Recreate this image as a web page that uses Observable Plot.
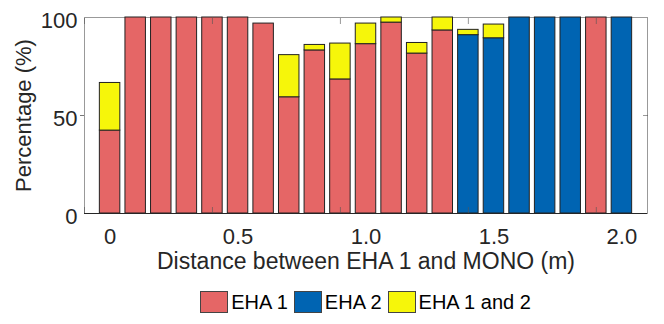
<!DOCTYPE html>
<html>
<head>
<meta charset="utf-8">
<script src="https://cdn.jsdelivr.net/npm/d3@7"></script>
<script src="https://cdn.jsdelivr.net/npm/@observablehq/plot@0.6"></script>
<style>
  body { margin: 0; background: #fff; font-family: "Liberation Sans", Arial, sans-serif; }
  #legend { display: flex; justify-content: center; align-items: center; padding-left: 84px; padding-right: 17px; height: 44px; box-sizing: border-box; font-size: 20px; color: #000; }
  .item { display: flex; align-items: center; margin: 0 3px; }
  .sw { width: 26px; height: 20px; border: 1px solid #444; margin-right: 3px; }
</style>
</head>
<body>
<div id="chart"></div>
<div id="legend"></div>
<script>
const distances = [0, 0.1, 0.2, 0.3, 0.4, 0.5, 0.6, 0.7, 0.8, 0.9, 1.0, 1.1, 1.2, 1.3, 1.4, 1.5, 1.6, 1.7, 1.8, 1.9, 2.0];
const eha1 = [42.3, 100, 100, 100, 100, 100, 96.9, 59.3, 83.2, 68.4, 86.4, 97.4, 81.6, 93.4, 0, 0, 0, 0, 0, 100, 0];
const eha2 = [0, 0, 0, 0, 0, 0, 0, 0, 0, 0, 0, 0, 0, 0, 91.0, 89.4, 100, 100, 100, 0, 100];
const both = [24.3, 0, 0, 0, 0, 0, 0, 21.5, 2.8, 18.3, 10.5, 2.6, 5.4, 6.6, 2.7, 7.0, 0, 0, 0, 0, 0];
const seriesNames = ["EHA 1", "EHA 2", "EHA 1 and 2"];
const seriesColors = ["#E56666", "#0064B2", "#F6F60A"];
const xTickValues = [0, 0.5, 1.0, 1.5, 2.0];
const xTickLabels = ["0", "0.5", "1.0", "1.5", "2.0"];
const xTickMarks = [-0.1, 0.4, 0.9, 1.4, 1.9];
const yTickValues = [0, 50, 100];
const xLabel = "Distance between EHA 1 and MONO (m)";
const yLabel = "Percentage (%)";

const halfWidth = 0.04;
const rows = [];
[eha1, eha2, both].forEach((arr, s) => {
  arr.forEach((v, i) => {
    if (v > 0) rows.push({x: distances[i], value: v, series: seriesNames[s]});
  });
});

const chart = Plot.plot({
  width: 664,
  height: 280,
  marginLeft: 84,
  marginRight: 17,
  marginTop: 17,
  marginBottom: 67,
  style: {fontFamily: "Liberation Sans, Arial, sans-serif", fontSize: "22px", color: "#262626", background: "#fff"},
  x: {domain: [-0.1, 2.1]},
  y: {domain: [0, 100]},
  color: {domain: seriesNames, range: seriesColors},
  marks: [
    Plot.frame({stroke: "#999"}),
    Plot.rectY(rows, Plot.stackY({
      x1: d => d.x - halfWidth,
      x2: d => d.x + halfWidth,
      y: "value",
      z: "series",
      fill: "series",
      stroke: "#222",
      strokeWidth: 1,
      order: seriesNames
    })),
    Plot.ruleY([0], {stroke: "#262626"}),
    Plot.axisY({ticks: yTickValues, tickSize: 0, tickPadding: 7, dy: 3, label: null, fill: "#262626"}),
    Plot.axisY({ticks: [50], tickSize: 4, tickFormat: () => "", label: null, stroke: "#777"}),
    Plot.axisY({anchor: "right", ticks: [50], tickSize: 5, dx: -5, tickFormat: () => "", label: null, stroke: "#555", strokeOpacity: 0.6}),
    Plot.axisX({anchor: "bottom", ticks: xTickMarks, tickSize: 6, dy: -6, tickFormat: () => "", label: null, stroke: "#555", strokeOpacity: 0.6}),
    Plot.axisX({anchor: "top", ticks: xTickMarks, tickSize: 6, dy: 6, tickFormat: () => "", label: null, stroke: "#555", strokeOpacity: 0.6}),
    Plot.axisX({anchor: "bottom", ticks: xTickValues, tickSize: 0, tickPadding: 15, tickFormat: (d, i) => xTickLabels[i], label: null, fill: "#262626"}),
    Plot.text([xLabel], {frameAnchor: "bottom", lineAnchor: "bottom", dy: 55, fontSize: 23, fill: "#262626"}),
    Plot.text([yLabel], {frameAnchor: "left", textAnchor: "middle", rotate: -90, dx: -61, fontSize: 22, fill: "#262626"})
  ]
});
document.getElementById("chart").appendChild(chart);

const legend = document.getElementById("legend");
seriesNames.forEach((name, i) => {
  const item = document.createElement("div");
  item.className = "item";
  const sw = document.createElement("div");
  sw.className = "sw";
  sw.style.background = seriesColors[i];
  const label = document.createElement("span");
  label.textContent = name;
  item.appendChild(sw);
  item.appendChild(label);
  legend.appendChild(item);
});
</script>
</body>
</html>
